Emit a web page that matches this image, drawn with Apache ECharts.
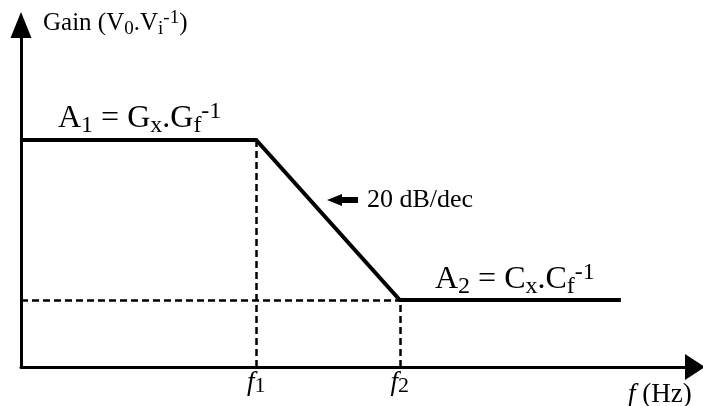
<!DOCTYPE html>
<html>
<head>
<meta charset="utf-8">
<script src="https://cdn.jsdelivr.net/npm/echarts@6/dist/echarts.min.js"></script>
<style>
  html, body { margin: 0; padding: 0; background: #fff; }
  #chart { width: 703px; height: 406px; }
</style>
</head>
<body>
<div id="chart"></div>
<script>
// 折线响应（示意图）：0 → f1 → f2 → 结束
const freqPoints = [0, 34.9, 56.2, 89.0];
const gainPoints = [66.4, 66.4, 19.6, 19.6];
// 转折频率及下标
const cornerFreqs = [34.9, 56.2];
const cornerSubs = ['1', '2'];
// 两个增益平台
const gainLevels = [66.4, 19.6];
const axisMax = 100;

const SERIF = 'Liberation Serif';

// 上下标的富文本样式
function richSet(S, LH, drop, rise, ratio) {
    const s = Math.round(S * (ratio || 0.76));
    const base = { fontFamily: SERIF, color: '#000' };
    return {
        m: { ...base, fontSize: S, lineHeight: LH },
        i: { ...base, fontSize: S, lineHeight: LH, fontStyle: 'italic' },
        sub: { ...base, fontSize: s, lineHeight: LH - 2 * drop + 0.68 * (s - S), verticalAlign: 'bottom' },
        sup: { ...base, fontSize: s, lineHeight: LH + 0.68 * (S - s) - 2 * rise, verticalAlign: 'top' }
    };
}

function textEl(x, y, text, rich) {
    return {
        type: 'text', x: x, y: y, z: 100, silent: true,
        style: { text: text, rich: rich, align: 'left', verticalAlign: 'middle', fill: '#000', fontFamily: SERIF }
    };
}

const chart = echarts.init(document.getElementById('chart'));

const lineData = freqPoints.map((f, i) => [f, gainPoints[i]]);
const axisLabelRich = richSet(27, 28, 2, 0, 0.8);

const option = {
    animation: false,
    backgroundColor: '#fff',
    grid: { left: 21, right: 8, top: 25, bottom: 39 },
    xAxis: {
        type: 'value', min: 0, max: axisMax,
        axisLine: { show: true, symbol: ['none', 'triangle'], symbolSize: [26, 20], lineStyle: { color: '#000', width: 3 } },
        axisTick: { show: false },
        splitLine: { show: false },
        axisLabel: {
            customValues: cornerFreqs,
            margin: 2,
            fontFamily: SERIF,
            fontSize: 27,
            formatter: v => {
                const k = cornerFreqs.indexOf(v);
                return '{i|f}{sub|' + cornerSubs[k] + '}';
            },
            rich: axisLabelRich
        }
    },
    yAxis: {
        type: 'value', min: 0, max: axisMax,
        axisLine: { show: true, symbol: ['none', 'triangle'], symbolSize: [21, 26], lineStyle: { color: '#000', width: 3 } },
        axisTick: { show: false },
        splitLine: { show: false },
        axisLabel: { show: false }
    },
    series: [{
        type: 'line',
        data: lineData,
        symbol: 'none',
        lineStyle: { color: '#000', width: 4, join: 'miter' },
        z: 5,
        markLine: {
            silent: true,
            symbol: ['none', 'none'],
            label: { show: false },
            lineStyle: { color: '#000', width: 2.5, type: [7, 4] },
            data: [
                [{ coord: [cornerFreqs[0], 0] }, { coord: [cornerFreqs[0], gainLevels[0]] }],
                [{ coord: [cornerFreqs[1], 0] }, { coord: [cornerFreqs[1], gainLevels[1]] }],
                [{ coord: [0, gainLevels[1]] }, { coord: [cornerFreqs[1], gainLevels[1]] }]
            ]
        }
    }],
    graphic: [
        textEl(43, 23.5, '{m|Gain (V}{sub|0}{m|.V}{sub|i}{sup|-1}{m|)}', richSet(25, 30, 0, 7, 0.74)),
        textEl(58, 118.5, '{m|A}{sub|1}{m| = G}{sub|x}{m|.G}{sub|f}{sup|-1}', richSet(32, 38, 0, 9)),
        textEl(435, 279.5, '{m|A}{sub|2}{m| = C}{sub|x}{m|.C}{sub|f}{sup|-1}', richSet(32, 38, 0, 9)),
        textEl(367, 200, '{m|20 dB/dec}', richSet(26, 30, 0, 0)),
        textEl(628, 395, '{i|f}{m| (Hz)}', richSet(27, 30, 0, 0)),
        {
            type: 'polygon', z: 100, silent: true,
            shape: { points: [[327, 200], [342, 194], [342, 197], [358, 197], [358, 203], [342, 203], [342, 206]] },
            style: { fill: '#000' }
        }
    ]
};
chart.setOption(option);
window.addEventListener('resize', () => chart.resize());
</script>
</body>
</html>
